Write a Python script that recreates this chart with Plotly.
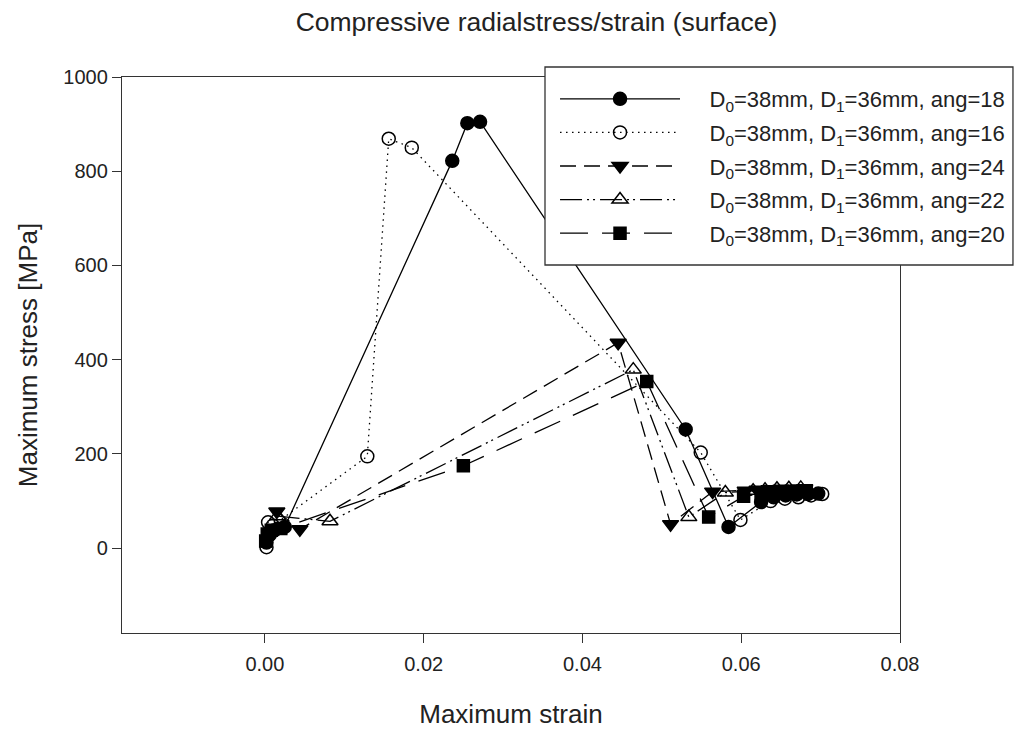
import plotly.graph_objects as go

# Maximum strain / maximum stress pairs for each die angle
strain_18 = [0.0002, 0.0006, 0.0012, 0.0025, 0.0236, 0.0255, 0.0271, 0.0530, 0.0584,
             0.0625, 0.0641, 0.0656, 0.0670, 0.0684, 0.0697]
stress_18 = [12, 28, 38, 45, 822, 902, 905, 252, 45, 98, 108, 112, 114, 115, 116]

strain_16 = [0.0002, 0.0004, 0.0010, 0.0129, 0.0156, 0.0185, 0.0549, 0.0599,
             0.0637, 0.0655, 0.0672, 0.0688, 0.0702]
stress_16 = [2, 55, 48, 195, 869, 850, 203, 60, 100, 105, 108, 112, 115]

strain_24 = [0.0015, 0.0044, 0.0445, 0.0511, 0.0564, 0.0605, 0.0620, 0.0635,
             0.0650, 0.0665, 0.0680]
stress_24 = [78, 40, 436, 51, 120, 122, 124, 125, 126, 126, 127]

strain_22 = [0.0016, 0.0082, 0.0464, 0.0534, 0.0580, 0.0615, 0.0630, 0.0645,
             0.0660, 0.0675]
stress_22 = [68, 57, 379, 66, 118, 122, 124, 126, 127, 128]

strain_20 = [0.0001, 0.0003, 0.0008, 0.0020, 0.0250, 0.0481, 0.0559, 0.0603,
             0.0625, 0.0640, 0.0655, 0.0670, 0.0682]
stress_20 = [15, 30, 38, 42, 175, 354, 66, 110, 115, 118, 120, 121, 121]

angles = ["18", "16", "24", "22", "20"]
x_ticks = [0.00, 0.02, 0.04, 0.06, 0.08]
y_ticks = [0, 200, 400, 600, 800, 1000]

series = [
    (strain_18, stress_18, "circle", "solid", 13),
    (strain_16, stress_16, "circle-open", "1.5px,4.5px", 13),
    (strain_24, stress_24, "triangle-down", "16px,8px", 14),
    (strain_22, stress_22, "triangle-up-open", "22px,5px,2px,4px,2px,5px", 14),
    (strain_20, stress_20, "square", "28px,14px", 12),
]

gap = "\u00a0" * 4  # space between legend symbol and label

fig = go.Figure()
for (xs, ys, sym, dash, size), ang in zip(series, angles):
    fig.add_trace(go.Scatter(
        x=xs, y=ys, mode="lines+markers",
        name=f"{gap}D<sub>0</sub>=38mm, D<sub>1</sub>=36mm, ang={ang}",
        legendgroup=ang,
        line=dict(color="black", width=1.3, dash=dash),
        marker=dict(symbol=sym, size=size, color="black",
                    line=dict(color="black", width=1.5)),
    ))

font_family = "Liberation Sans, Arial, sans-serif"
axis_common = dict(
    showline=True, mirror=True, linecolor="#333", linewidth=1.3,
    ticks="outside", ticklen=9, tickwidth=1.3, tickcolor="#333",
    showgrid=False, zeroline=False, automargin=False,
    tickfont=dict(family=font_family, size=20, color="#222"),
)

# legend frame, wider than the native legend box
fig.add_shape(type="rect", xref="paper", yref="paper",
              x0=0.5437, x1=1.1452, y0=0.6619, y1=1.0180,
              fillcolor="white", line=dict(color="#333", width=1.3),
              layer="above")

fig.update_layout(
    width=1016, height=729,
    paper_bgcolor="white", plot_bgcolor="white",
    margin=dict(l=122, r=116, t=77, b=96, autoexpand=False),
    title=dict(text="Compressive radialstress/strain (surface)",
               x=0.528, xref="container", xanchor="center",
               y=0.97, yref="container", yanchor="middle",
               font=dict(family=font_family, size=26.5, color="#222")),
    xaxis=dict(range=[-0.018, 0.08], tickvals=x_ticks,
               tickformat=".2f", ticklabelstandoff=4,
               title=dict(text="Maximum strain", standoff=33,
                          font=dict(family=font_family, size=26, color="#222")),
               **axis_common),
    yaxis=dict(range=[-180, 1000], tickvals=y_ticks,
               title=dict(text="Maximum stress [MPa]", standoff=18,
                          font=dict(family=font_family, size=26, color="#222")),
               **axis_common),
    legend=dict(x=0.5566, y=0.9982, xanchor="left", yanchor="top",
                bgcolor="rgba(0,0,0,0)", borderwidth=0,
                itemwidth=120, tracegroupgap=2,
                font=dict(family=font_family, size=22, color="#222")),
    showlegend=True,
)

fig.write_html("out.html")
